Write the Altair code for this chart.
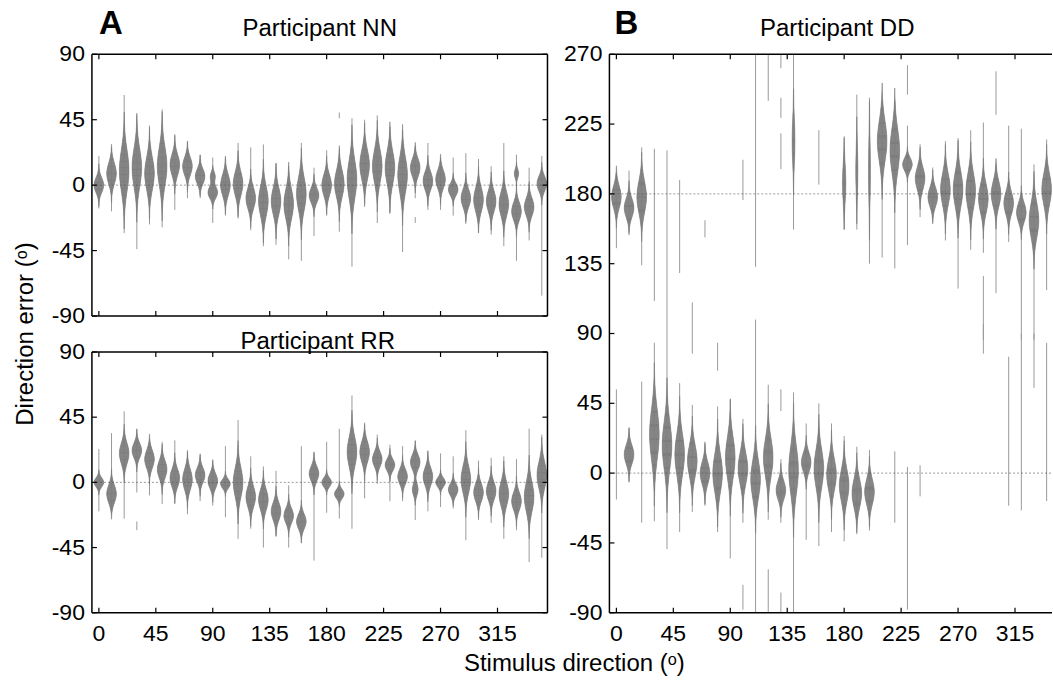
import altair as alt
import numpy as np
import pandas as pd

# ---------------- data ----------------
directions = list(range(0, 360, 10))
x_tick_values = [0, 45, 90, 135, 180, 225, 270, 315]
y_ticks_small = [-90, -45, 0, 45, 90]
y_ticks_dd = [-90, -45, 0, 45, 90, 135, 180, 225, 270]

# Participant NN: main mode centre, spread, tail extents per stimulus direction
nn_center = [0, 8, 10, 12, 8, 13, 14, 13, 6, -5, 0, 1, -9, -11, -11, -13, -6, -7, 0, 1,
             4, 14, 13, 12, 7, 12, 3, 4, -3, -9, -10, -11, -13, -18, -15, 1]
nn_spread = [5, 7, 14, 13, 11, 13, 7, 6, 5, 4, 7, 8, 7, 10, 9, 10, 11, 5, 7, 9,
             13, 10, 11, 11, 12, 6, 6, 6, 4, 6, 8, 7, 8, 6, 6, 5]
nn_low = [-16, -18, -33, -44, -27, -29, -17, -9, -7, -26, -21, -23, -31, -42, -41, -51, -52, -35, -21, -32,
          -56, -13, -26, -19, -46, -9, -17, -17, -21, -25, -33, -34, -42, -52, -38, -76]
nn_high = [20, 26, 62, 48, 41, 52, 35, 30, 21, 19, 19, 29, 26, 28, 15, 13, 29, 12, 24, 25,
           46, 45, 48, 40, 38, 27, 29, 19, 19, 22, 18, 13, 29, 21, 12, 20]
nn_extra_modes = {90: [(6, 3, 0.5)], 330: [(8, 3, 0.45)]}
nn_extra_segments = {190: [(46, 50)], 250: [(-26, -22)]}

# Participant RR
rr_center = [0, -8, 20, 22, 16, 9, 3, 2, 5, 1, -1, 0, -10, -12, -20, -23, -27, 6, 0, -8,
             21, 21, 16, 12, 4, 14, 4, 0, -5, 2, -7, -6, -8, -13, -10, 5]
rr_spread = [3, 6, 7, 5, 6, 6, 6, 7, 5, 5, 3, 10, 7, 7, 6, 5, 5, 5, 3, 3,
             10, 7, 5, 4, 5, 5, 6, 3, 4, 9, 6, 6, 8, 6, 10, 9]
rr_low = [-20, -21, -25, -7, -9, -15, -15, -22, -13, -16, -24, -39, -32, -45, -37, -45, -42, -54, -21, -25,
          -32, -11, -1, -13, -13, -26, -20, -17, -18, -40, -26, -28, -39, -33, -55, -52]
rr_high = [23, 34, 49, 37, 30, 28, 29, 21, 19, 15, 25, 43, 18, 11, 8, -2, 25, 21, 28, 37,
           60, 40, 33, 26, 25, 29, 22, 20, 18, 36, 15, 17, 18, 16, 37, 33]
rr_extra_modes = {250: [(-5, 4, 0.6)]}
rr_extra_segments = {30: [(-33, -27)]}

# Participant DD: modes (centre, spread, relative weight) and thin segments (low, high)
dd_modes = {
    0: [(178, 7, 1)], 10: [(171, 6, 1), (12, 6, 1)], 20: [(178, 10, 1)], 30: [(25, 16, 1)],
    40: [(18, 15, 1)], 50: [(12, 13, 1)], 60: [(8, 10, 1)], 70: [(0, 7, 1)], 80: [(0, 12, 1)],
    90: [(10, 13, 1)], 100: [(3, 10, 1)], 110: [(-4, 12, 1)], 120: [(10, 12, 1)], 130: [(-11, 6, 1)],
    140: [(2, 15, 1), (214, 14, 0.3)], 150: [(7, 6, 1)], 160: [(3, 12, 1)], 170: [(-1, 10, 1)],
    180: [(-8, 10, 1), (187, 12, 0.35)], 190: [(-13, 9, 1), (195, 15, 0.22)],
    200: [(-12, 8, 1), (195, 20, 0.2)], 210: [(214, 13, 1)], 220: [(208, 14, 1)], 230: [(199, 4, 1)],
    240: [(190, 7, 1)], 250: [(178, 6, 1)], 260: [(183, 10, 1)], 270: [(183, 11, 1)],
    280: [(182, 11, 1)], 290: [(177, 9, 1)], 300: [(180, 8, 1)], 310: [(174, 7, 1)],
    320: [(168, 6, 1)], 330: [(163, 11, 1)], 340: [(183, 10, 1)],
}
dd_segments = {
    0: [(145, 194), (-17, 54)], 10: [(155, 195), (-6, 29)], 20: [(134, 210), (-32, 59)],
    30: [(111, 209), (-31, 84)], 40: [(-49, 208)], 50: [(129, 189), (-38, 58)],
    60: [(77, 110), (-25, 44)], 70: [(152, 163), (-21, 19)], 80: [(66, 84), (-38, 43)],
    90: [(-55, 48)], 100: [(176, 202), (-32, 35), (-88, -72)], 110: [(133, 270), (-90, 99)],
    120: [(240, 270), (-30, 57), (-90, -62)],
    130: [(261, 270), (229, 242), (196, 219), (40, 54), (-32, 9), (-90, -77)],
    140: [(157, 270), (-90, 52)], 150: [(-43, 32)], 160: [(186, 221), (-47, 45)],
    170: [(-38, 32)], 180: [(157, 216), (-44, 24)], 190: [(157, 244), (-38, 17)],
    200: [(135, 242), (-37, 15)], 210: [(139, 240)], 220: [(132, 240), (-32, 14)],
    230: [(147, 224), (244, 263), (-88, 4)], 240: [(165, 212), (-15, 5)], 250: [(162, 197)],
    260: [(150, 214)], 270: [(119, 216)], 280: [(144, 221)],
    290: [(142, 226), (86, 127), (77, 96)], 300: [(116, 199), (231, 259)],
    310: [(149, 224), (-21, 75)], 320: [(86, 222), (-24, 90)], 330: [(86, 199), (55, 90)],
    340: [(-18, 84), (118, 215)],
}

# ---------------- styling ----------------
FONT = "Liberation Sans"
BODY = "#7f7f7f"
TAIL = "#9a9a9a"
HALF = 3.8  # half width of each violin in stimulus-direction units
STEP = 0.6  # vertical slice height of the violin outline (degrees)
LW, LH1, LH2 = 456, 262, 261
DW, DH = 443, 559
X_LEFT = [-5.5, 354.5]
X_DD = [-5.5, -5.5 + DW * 360.0 / 456.0]


def make_modes(center, spread, extra):
    out = {}
    for d, c, s in zip(directions, center, spread):
        out[d] = [(c, s, 1.0)] + extra.get(d, [])
    return out


def make_segs(low, high, extra):
    out = {}
    for d, lo, hi in zip(directions, low, high):
        out[d] = [(lo, hi)] + extra.get(d, [])
    return out


def violin_frames(modes, segs):
    rows = []
    for d, ms in modes.items():
        lo = min(c - 3.3 * s for c, s, w in ms)
        hi = max(c + 3.3 * s for c, s, w in ms)
        edges = np.arange(lo, hi + STEP, STEP)
        mids = 0.5 * (edges[:-1] + edges[1:])
        f = np.zeros_like(mids)
        for c, s, w in ms:
            f += w * np.exp(-0.5 * ((mids - c) / s) ** 2)
        f = f / f.max()
        for y0, y1, v in zip(edges[:-1], edges[1:], f):
            if v * HALF < 0.06:
                continue
            rows.append({"d": d, "v0": float(y0), "v1": float(y1),
                         "xl": d - HALF * v, "xr": d + HALF * v})
    srows = []
    for d, ss in segs.items():
        for lo, hi in ss:
            srows.append({"d": d, "lo": lo, "hi": hi})
    return pd.DataFrame(rows), pd.DataFrame(srows)


def panel(bodies, segs, W, H, xdom, ydom, yticks, zero_vals, x_labels, right_border, texts):
    xs = alt.Scale(domain=xdom, nice=False, zero=False)
    ys = alt.Scale(domain=ydom, nice=False, zero=False)

    seg = alt.Chart(segs).mark_rule(color=TAIL, strokeWidth=1, clip=True).encode(
        x=alt.X("d:Q", scale=xs, axis=None),
        y=alt.Y("lo:Q", scale=ys, axis=None),
        y2="hi:Q",
    )
    body = alt.Chart(bodies).mark_rect(color=BODY, stroke=BODY, strokeWidth=0.5, clip=True).encode(
        y=alt.Y("v0:Q", scale=ys, axis=None),
        y2="v1:Q",
        x=alt.X("xl:Q", scale=xs, axis=None),
        x2="xr:Q",
    )
    zero = alt.Chart(pd.DataFrame({"z": zero_vals})).mark_rule(
        color="#555555", strokeWidth=1, strokeDash=[2, 2], opacity=0.6
    ).encode(y=alt.Y("z:Q", scale=ys, axis=None), x=alt.value(0), x2=alt.value(W))

    xt = pd.DataFrame({"t": x_tick_values, "lab": [str(v) for v in x_tick_values]})
    yt = pd.DataFrame({"t": yticks, "lab": [str(v) for v in yticks]})
    tick_style = dict(color="black", strokeWidth=1.2)
    ticks = [
        alt.Chart(xt).mark_rule(**tick_style).encode(
            x=alt.X("t:Q", scale=xs, axis=None), y=alt.value(H), y2=alt.value(H - 5)),
        alt.Chart(xt).mark_rule(**tick_style).encode(
            x=alt.X("t:Q", scale=xs, axis=None), y=alt.value(0), y2=alt.value(5)),
        alt.Chart(yt).mark_rule(**tick_style).encode(
            y=alt.Y("t:Q", scale=ys, axis=None), x=alt.value(0), x2=alt.value(5)),
        alt.Chart(yt).mark_text(font=FONT, fontSize=23, align="right", baseline="middle",
                                color="black").encode(
            y=alt.Y("t:Q", scale=ys, axis=None), x=alt.value(-7), text="lab:N"),
    ]
    if x_labels:
        ticks.append(alt.Chart(xt).mark_text(font=FONT, fontSize=23, align="center",
                                             baseline="alphabetic", color="black").encode(
            x=alt.X("t:Q", scale=xs, axis=None), y=alt.value(H + 28), text="lab:N"))
    if right_border:
        ticks.append(alt.Chart(yt).mark_rule(**tick_style).encode(
            y=alt.Y("t:Q", scale=ys, axis=None), x=alt.value(W - 5), x2=alt.value(W)))

    one = pd.DataFrame({"k": [0]})
    fs = dict(color="black", strokeWidth=1.5)
    frame = [
        alt.Chart(one).mark_rule(**fs).encode(x=alt.value(0), x2=alt.value(W), y=alt.value(0)),
        alt.Chart(one).mark_rule(**fs).encode(x=alt.value(0), x2=alt.value(W), y=alt.value(H)),
        alt.Chart(one).mark_rule(**fs).encode(x=alt.value(0), y=alt.value(0), y2=alt.value(H)),
    ]
    if right_border:
        frame.append(alt.Chart(one).mark_rule(**fs).encode(x=alt.value(W), y=alt.value(0), y2=alt.value(H)))

    txt = []
    for (t, x, y, size, weight, angle) in texts:
        txt.append(alt.Chart(pd.DataFrame({"t": [t]})).mark_text(
            font=FONT, fontSize=size, fontWeight=weight, angle=angle, color="black",
            align="center", baseline="alphabetic" if angle == 0 else "middle",
        ).encode(x=alt.value(x), y=alt.value(y), text="t:N"))

    return alt.layer(seg, body, zero, *ticks, *frame, *txt).properties(width=W, height=H)


nn_b, nn_s = violin_frames(make_modes(nn_center, nn_spread, nn_extra_modes),
                           make_segs(nn_low, nn_high, nn_extra_segments))
rr_b, rr_s = violin_frames(make_modes(rr_center, rr_spread, rr_extra_modes),
                           make_segs(rr_low, rr_high, rr_extra_segments))
dd_b, dd_s = violin_frames(dd_modes, dd_segments)

nn = panel(nn_b, nn_s, LW, LH1, X_LEFT, [-90, 90], y_ticks_small, [0], False, True, [
    ("A", 19, -20, 33, "bold", 0),
    ("Participant NN", 228, -18, 24, "normal", 0),
    ("Direction error (ᵒ)", -66, 280, 24, "normal", 270),
])
rr = panel(rr_b, rr_s, LW, LH2, X_LEFT, [-90, 90], y_ticks_small, [0], True, True, [
    ("Participant RR", 226, -3, 24, "normal", 0),
])
dd = panel(dd_b, dd_s, DW, DH, X_DD, [-90, 270], y_ticks_dd, [0, 180], True, False, [
    ("B", 17, -20, 33, "bold", 0),
    ("Participant DD", 228, -18, 24, "normal", 0),
])

left = alt.vconcat(nn, rr, spacing=36, bounds="flush")
chart = alt.hconcat(left, dd, spacing=15).properties(
    title=alt.TitleParams("Stimulus direction (ᵒ)", orient="bottom", anchor="middle",
                          font=FONT, fontSize=24, fontWeight="normal", color="black",
                          offset=6, dx=41),
    padding={"left": 14, "top": 8, "right": 0, "bottom": 0},
    background="white",
).configure_view(strokeWidth=0)

chart.save("out.html", embed_options={"renderer": "svg", "actions": False})
